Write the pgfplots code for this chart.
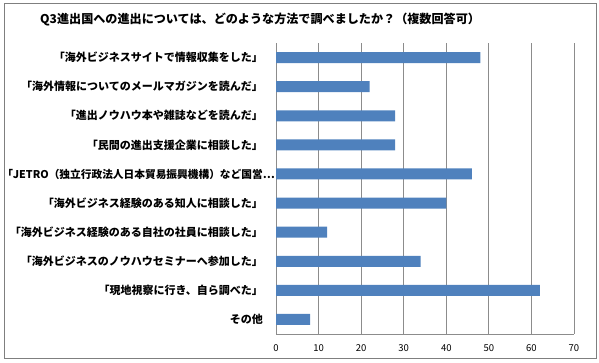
\documentclass[border=0pt]{standalone}
\usepackage{pgfplots}
\pgfplotsset{compat=1.18}
\usepackage{fontspec}
\setmainfont{Noto Sans CJK JP}
\definecolor{barblue}{HTML}{4F81BD}
\definecolor{gridgray}{HTML}{8C8C8C}
\definecolor{framegray}{HTML}{7F7F7F}
\newcommand{\jetro}{{\fontsize{10.7}{12}\selectfont 「JETRO（独立行政法人日本貿易振興機構）など国営\rlap{⋯}}}
\begin{document}
\begin{tikzpicture}[x=1pt,y=1pt]
\useasboundingbox (0,0) rectangle (599,362);
\draw[framegray, line width=1pt] (4,4) rectangle (596,358);
\node[anchor=west, inner sep=0pt, font=\fontsize{12.1}{14}\selectfont\bfseries] at (40,342) {Q3進出国への進出については、どのような方法で調べましたか？（複数回答可）};
\begin{axis}[
  at={(276pt,28pt)}, anchor=south west,
  scale only axis, width=298pt, height=291pt,
  xbar, bar width=11pt,
  xmin=0, xmax=70, xtick={0,10,...,70},
  ymin=-0.5, ymax=9.5, y dir=reverse,
  ytick={0,...,9},
  yticklabels={
    {「海外ビジネスサイトで情報収集をした」},
    {「海外情報についてのメールマガジンを読んだ」},
    {「進出ノウハウ本や雑誌などを読んだ」},
    {「民間の進出支援企業に相談した」},
    {\jetro},
    {「海外ビジネス経験のある知人に相談した」},
    {「海外ビジネス経験のある自社の社員に相談した」},
    {「海外ビジネスのノウハウセミナーへ参加した」},
    {「現地視察に行き、自ら調べた」},
    {その他}},
  axis x line*=bottom, axis y line*=left,
  axis line style={gridgray, line width=0.8pt},
  xmajorgrids, major grid style={gridgray, line width=0.8pt},
  major tick length=0pt,
  y tick label style={inner sep=0pt, xshift=-13pt, font=\fontsize{11}{12}\selectfont\bfseries},
  x tick label style={inner sep=0pt, yshift=-10pt, font=\fontsize{9.5}{11}\selectfont},
  /pgf/number format/assume math mode=true,
  clip=false,
]
\addplot[fill=barblue, draw=none] coordinates {
  (48,0) (22,1) (28,2) (28,3) (46,4) (40,5) (12,6) (34,7) (62,8) (8,9)
};
\end{axis}
\end{tikzpicture}
\end{document}
